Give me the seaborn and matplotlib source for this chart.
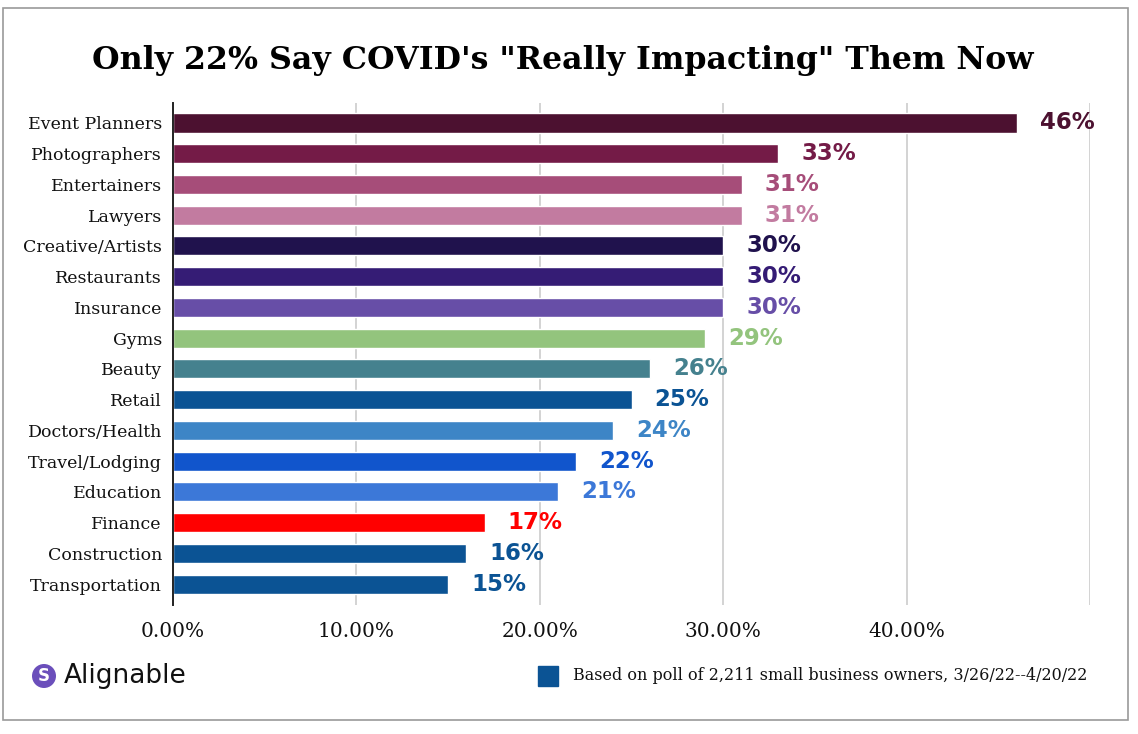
import matplotlib
matplotlib.use("Agg")
import matplotlib.pyplot as plt
import seaborn as sns
import pandas as pd
from matplotlib.patches import Rectangle, Ellipse

categories = ["Event Planners", "Photographers", "Entertainers", "Lawyers",
              "Creative/Artists", "Restaurants", "Insurance", "Gyms", "Beauty",
              "Retail", "Doctors/Health", "Travel/Lodging", "Education",
              "Finance", "Construction", "Transportation"]
values = [46, 33, 31, 31, 30, 30, 30, 29, 26, 25, 24, 22, 21, 17, 16, 15]
colors = ["#4c1130", "#741b47", "#a64d79", "#c27ba0", "#20124d", "#351c75",
          "#674ea7", "#93c47d", "#45818e", "#0b5394", "#3d85c6", "#1155cc",
          "#3c78d8", "#ff0000", "#0b5394", "#0b5394"]
tick_values = [0, 10, 20, 30, 40, 50]
tick_labels = ["0.00%", "10.00%", "20.00%", "30.00%", "40.00%", ""]
title = "Only 22% Say COVID's \"Really Impacting\" Them Now"
legend_text = "Based on poll of 2,211 small business owners, 3/26/22--4/20/22"

sns.set_theme(style="white")
serif = ["DejaVu Serif"]

fig = plt.figure(figsize=(11.38, 7.34), dpi=100)
W, H = 1138, 734

def fx(px):
    return px / W

def fy(py):
    return 1 - py / H

# outer frame (spreadsheet-like)
fig.patches.append(Rectangle((fx(3), fy(720)), fx(1128) - fx(3), fy(8) - fy(720),
                             transform=fig.transFigure, fill=False,
                             edgecolor="#9a9a9a", linewidth=1.2, zorder=0))

ax = fig.add_axes([fx(173), fy(605), fx(1090) - fx(173), fy(103) - fy(605)])
df = pd.DataFrame({"cat": categories, "val": values})
sns.barplot(data=df, x="val", y="cat", hue="cat", palette=colors,
            legend=False, width=0.62, ax=ax, saturation=1, zorder=3)

ax.set_xlim(0, 50)
ax.set_ylim(15.68, -0.65)
ax.set_xticks(tick_values)
ax.set_xticklabels(tick_labels, fontsize=14.5, family=serif, color="#111111")
ax.tick_params(axis="x", length=0, pad=12)
ax.tick_params(axis="y", length=0, pad=8)
ax.set_yticks(range(len(categories)))
ax.set_yticklabels(categories, fontsize=12.5, family=serif, color="#111111")
ax.set_xlabel("")
ax.set_ylabel("")
ax.grid(axis="x", color="#cccccc", linewidth=1.2, zorder=0)
for s in ["top", "right", "bottom"]:
    ax.spines[s].set_visible(False)
ax.spines["left"].set_color("#222222")
ax.spines["left"].set_linewidth(1.4)
ax.spines["left"].set_zorder(4)

for i, (v, c) in enumerate(zip(values, colors)):
    ax.text(v + 1.25, i, f"{v}%", va="center", ha="left", color=c,
            fontsize=16.5, fontweight="bold", family=["DejaVu Sans"])

fig.text(fx(563), fy(60), title, ha="center", va="center", fontsize=22.8,
         fontweight="bold", family=serif, color="#000000")

# legend
fig.patches.append(Rectangle((fx(538), fy(686)), fx(20), fy(666) - fy(686),
                             transform=fig.transFigure, facecolor="#0b5394",
                             edgecolor="#0b5394", zorder=3))
fig.text(fx(573), fy(676), legend_text, ha="left", va="center", fontsize=11.5,
         family=serif, color="#111111")

# logo
fig.patches.append(Ellipse((fx(44), fy(676)), 24 / W, 24 / H,
                           transform=fig.transFigure,
                           facecolor="#6b4fbb", edgecolor="none", zorder=3))
fig.text(fx(44), fy(676), "S", ha="center", va="center", fontsize=12,
         fontweight="bold", color="white", family=["DejaVu Sans"])
fig.text(fx(64), fy(676), "Alignable", ha="left", va="center", fontsize=19,
         color="#111111", family=["DejaVu Sans"])

fig.savefig("out.png", dpi=100, facecolor="white")
